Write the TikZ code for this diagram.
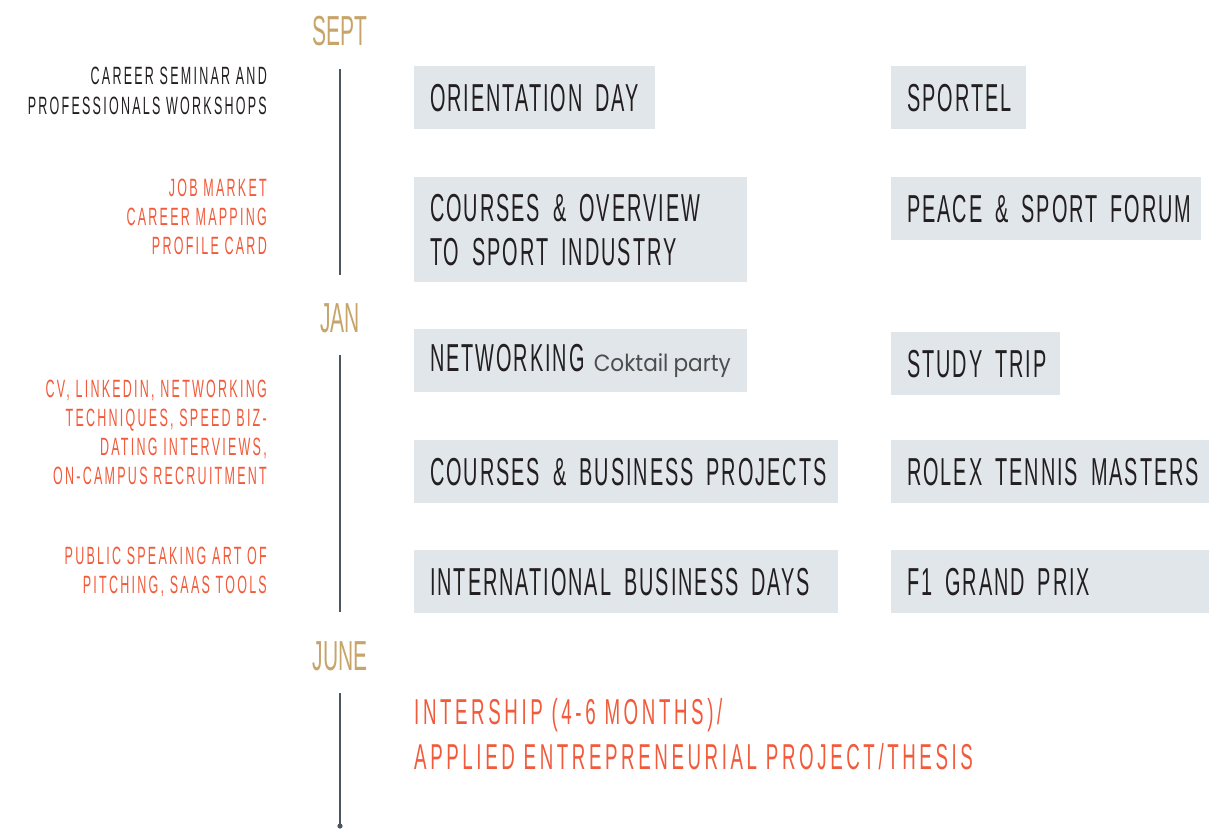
\documentclass[tikz,border=0pt]{standalone}
\usepackage{fontspec}
\usepackage{tikz}
\usetikzlibrary{positioning}
\setmainfont{Liberation Sans}
\newfontfamily\monthfont[FakeStretch=0.5]{Liberation Sans}
\newfontfamily\eventfont[FakeStretch=0.51,LetterSpace=5]{Liberation Sans}
\newfontfamily\sidefont[FakeStretch=0.5,LetterSpace=9]{Liberation Sans}
\newfontfamily\internfont[FakeStretch=0.52,LetterSpace=10]{Liberation Sans}
\newfontfamily\partyfont[FakeStretch=0.92]{Poppins}
\definecolor{boxgray}{HTML}{E1E6EA}
\definecolor{textdark}{HTML}{231F20}
\definecolor{gold}{HTML}{C6A46A}
\definecolor{coral}{HTML}{F15A3A}
\definecolor{linegray}{HTML}{4B5661}
\definecolor{partygray}{HTML}{4D4D4D}
\tikzset{
  event/.style={fill=boxgray, text=textdark, anchor=north west, minimum height=63pt,
    inner xsep=16pt, inner ysep=0pt, align=left, font=\eventfont\fontsize{39}{44}\selectfont},
  month/.style={text=gold, anchor=base, inner sep=0pt, font=\monthfont\fontsize{42}{44}\selectfont},
  side/.style={anchor=base east, align=right, inner sep=0pt, font=\sidefont\fontsize{25}{29}\selectfont},
  timeline/.style={draw=linegray, line width=2pt}
}
\begin{document}
\begin{tikzpicture}[x=1pt, y=-1pt]
		\useasboundingbox (0,0) rectangle (1209,832);
		% months
		\node[month] (sept) at (340,46) {SEPT};
		\node[month] (jan) at (340,332) {JAN};
		\node[month] (june) at (340,670) {JUNE};
		% timeline
		\coordinate (t1a) at (340,69); \coordinate (t1b) at (340,275);
		\coordinate (t2a) at (340,355); \coordinate (t2b) at (340,612);
		\coordinate (t3a) at (340,693); \coordinate (t3b) at (340,826);
		\draw[timeline] (t1a)--(t1b); \draw[timeline] (t2a)--(t2b); \draw[timeline] (t3a)--(t3b);
		\fill[linegray] (t3b) circle (2.6);
		% side notes (base = last line)
		\node[side, text=textdark] (seminar) at (267,114) {CAREER SEMINAR AND\\PROFESSIONALS WORKSHOPS};
		\node[side, text=coral] (jobmarket) at (267,254) {JOB MARKET\\CAREER MAPPING\\PROFILE CARD};
		\node[side, text=coral] (cv) at (267,484) {CV, LINKEDIN, NETWORKING\\TECHNIQUES, SPEED BIZ-\\DATING INTERVIEWS,\\ON-CAMPUS RECRUITMENT};
		\node[side, text=coral] (speaking) at (267,593) {PUBLIC SPEAKING ART OF\\PITCHING, SAAS TOOLS};
		% events, left column
		\node[event, text width=209pt] (orient) at (414,66) {\mbox{ORIENTATION DAY}};
		\node[event, text width=301pt, minimum height=105pt] (overview) at (414,177) {\mbox{COURSES \& OVERVIEW}\\\mbox{TO SPORT INDUSTRY}};
		\node[event, text width=301pt] (network) at (414,329) {\mbox{NETWORKING\hspace{9pt}{\partyfont\fontsize{23.5}{24}\selectfont\color{partygray}Coktail\hspace{5pt}party}}};
		\node[event, text width=392pt] (business) at (414,440) {\mbox{COURSES \& BUSINESS PROJECTS}};
		\node[event, text width=392pt] (ibd) at (414,550) {\mbox{INTERNATIONAL BUSINESS DAYS}};
		% events, right column
		\node[event, text width=103pt] (sportel) at (891,66) {\mbox{SPORTEL}};
		\node[event, text width=278pt] (peace) at (891,177) {\mbox{PEACE \& SPORT FORUM}};
		\node[event, text width=137pt] (trip) at (891,332) {\mbox{STUDY TRIP}};
		\node[event, text width=286pt] (rolex) at (891,440) {\mbox{ROLEX TENNIS MASTERS}};
		\node[event, text width=286pt] (f1) at (891,550) {\mbox{F1 GRAND PRIX}};
		% internship
		\node[anchor=base west, align=left, inner sep=0pt, text=coral,
		  font=\internfont\fontsize{36}{45}\selectfont] (intern) at (414,769)
		  {INTERSHIP (4-6 MONTHS)/\\APPLIED ENTREPRENEURIAL PROJECT/THESIS};
\end{tikzpicture}
\end{document}
